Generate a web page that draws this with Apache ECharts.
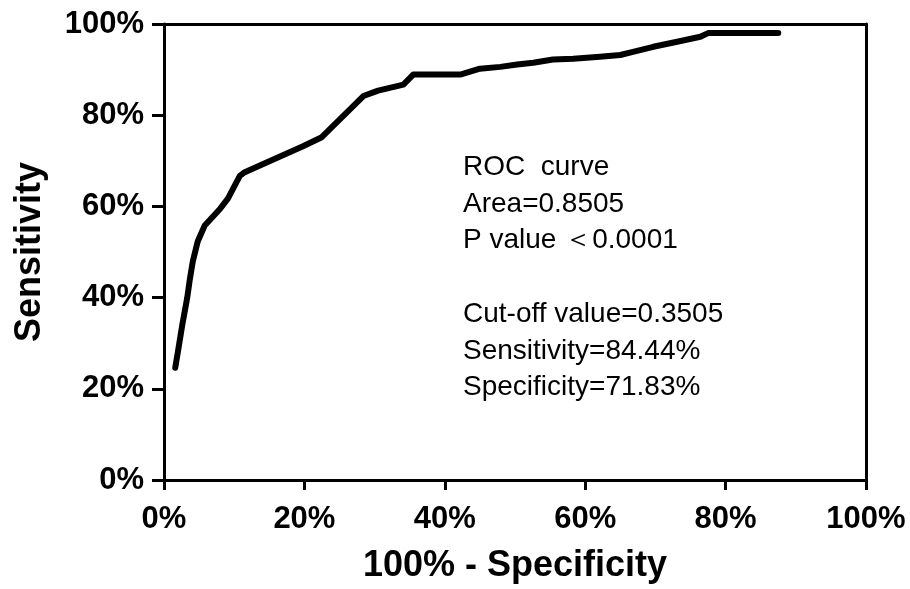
<!DOCTYPE html>
<html>
<head>
<meta charset="utf-8">
<script src="https://cdn.jsdelivr.net/npm/echarts@6/dist/echarts.min.js"></script>
<style>
	html, body { margin: 0; padding: 0; background: #fff; }
	#chart { width: 910px; height: 589px; }
</style>
</head>
<body>
<div id="chart"></div>
<script>
// ROC curve, in percent
var fpr = [1.6, 2.0, 2.6, 3.3, 3.7, 4.1, 4.8, 5.8, 8.0, 9.1, 10.8, 11.5, 19.8, 22.4, 28.4, 30.5, 34.1, 35.5, 42.2, 45.0, 47.9, 50.3, 52.6, 55.4, 58.3, 62.1, 65.0, 66.8, 69.7, 73.1, 76.4, 77.5, 87.5];
var tpr = [24.6, 28.3, 34.0, 39.9, 44.2, 47.9, 52.3, 55.8, 59.5, 61.7, 66.7, 67.5, 73.2, 75.1, 84.2, 85.4, 86.7, 88.9, 88.9, 90.2, 90.6, 91.1, 91.5, 92.2, 92.4, 92.8, 93.2, 93.9, 95.0, 96.1, 97.2, 98.0, 98.0];
var ticks = [0, 20, 40, 60, 80, 100];
var notes = [
	"ROC  curve",
	"Area=0.8505",
	"P value \uFF1C0.0001",
	"",
	"Cut-off value=0.3505",
	"Sensitivity=84.44%",
	"Specificity=71.83%"
];

var font = '"Liberation Sans", Arial, sans-serif';

function pointsOf(xs, ys) {
	return xs.map(function (x, i) {
		return [x, ys[i]];
	});
}

function axisOf(pos, main) {
	return {
		type: "value",
		position: pos,
		min: ticks[0],
		max: ticks[ticks.length - 1],
		interval: 20,
		axisLine: { show: true, onZero: false, lineStyle: { color: "#000", width: 3 } },
		axisTick: { show: main, length: pos === "left" ? 12 : 10, lineStyle: { color: "#000", width: 3 } },
		axisLabel: {
			show: main,
			formatter: "{value}%",
			color: "#000",
			fontFamily: font,
			fontWeight: "bold",
			fontSize: 31,
			margin: pos === "left" ? 20 : 24
		},
		splitLine: { show: false }
	};
}

var chart = echarts.init(document.getElementById("chart"));

var xBottom = axisOf("bottom", true);
xBottom.name = "100% - Specificity";
xBottom.nameLocation = "middle";
xBottom.nameGap = 68;
xBottom.nameTextStyle = { color: "#000", fontFamily: font, fontWeight: "bold", fontSize: 36 };

var yLeft = axisOf("left", true);
yLeft.name = "Sensitivity";
yLeft.nameLocation = "middle";
yLeft.nameGap = 116;
yLeft.nameTextStyle = { color: "#000", fontFamily: font, fontWeight: "bold", fontSize: 36 };

chart.setOption({
	animation: false,
	grid: { left: 164, right: 44, top: 24, bottom: 106 },
	xAxis: [xBottom, axisOf("top", false)],
	yAxis: [yLeft, axisOf("right", false)],
	graphic: [{
		type: "text",
		left: 463,
		top: 149,
		style: {
			text: notes.join("\n"),
			fill: "#000",
			font: "28px " + font,
			lineHeight: 36.7
		}
	}],
	series: [{
		type: "line",
		data: pointsOf(fpr, tpr),
		symbol: "none",
		lineStyle: { color: "#000", width: 6, cap: "round", join: "round" }
	}]
});
</script>
</body>
</html>
